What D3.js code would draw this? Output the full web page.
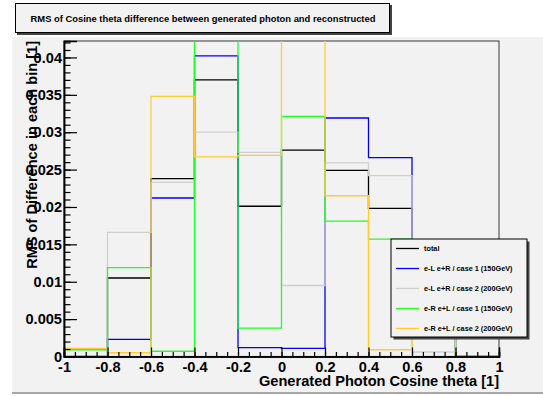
<!DOCTYPE html>
<html>
<head>
<meta charset="utf-8">
<script src="https://cdn.jsdelivr.net/npm/d3@7"></script>
<style>
body { margin:0; background:#fff; }
text { font-family:"Liberation Sans", Arial, sans-serif; font-weight:bold; }
</style>
</head>
<body>
<svg id="chart" width="543" height="396"></svg>
<script>
// bin edges of the histograms (Generated Photon Cosine theta)
var binEdges = [-1, -0.8, -0.6, -0.4, -0.2, 0, 0.2, 0.4, 0.6, 0.8, 1]

// RMS per bin, one array per series
var total   = [0.00094, 0.0105, 0.0238, 0.0370, 0.0201, 0.0276, 0.0249, 0.0198, 0.0090, 0]
var eLeR150 = [0, 0.0023, 0.0212, 0.0402, 0.0012, 0.0011, 0.0319, 0.0266, 0.0080, 0]
var eLeR200 = [0, 0.0166, 0.0233, 0.0300, 0.0273, 0.0095, 0.0259, 0.0242, 0.0006, 0]
var eReL150 = [0.0009, 0.0119, 0.0007, 0.0455, 0.0038, 0.0321, 0.0181, 0.0157, 0.0110, 0]
var eReL200 = [0.0011, 0.0005, 0.0348, 0.0267, 0.0269, 0.0440, 0.0215, 0.0009, 0.0060, 0]

var seriesNames = ["total", "e-L e+R / case 1 (150GeV)", "e-L e+R / case 2 (200GeV)",
                   "e-R e+L / case 1 (150GeV)", "e-R e+L / case 2 (200GeV)"]
var seriesColors = ["#000000", "#0000ff", "#cfcfcf", "#22ff22", "#ffcc33"]
var seriesValues = [total, eLeR150, eLeR200, eReL150, eReL200]

// tick labels
var xTickValues = [-1, -0.8, -0.6, -0.4, -0.2, 0, 0.2, 0.4, 0.6, 0.8, 1]
var xTickLabels = ["-1", "-0.8", "-0.6", "-0.4", "-0.2", "0", "0.2", "0.4", "0.6", "0.8", "1"]
var yTickValues = [0, 0.005, 0.01, 0.015, 0.02, 0.025, 0.03, 0.035, 0.04]
var yTickLabels = ["0", "0.005", "0.01", "0.015", "0.02", "0.025", "0.03", "0.035", "0.04"]

var svg = d3.select("#chart")

//---pad background
svg.append("rect").attr("x", 12).attr("y", 37).attr("width", 531).attr("height", 356).attr("fill", "#f2f2f2")
svg.append("rect").attr("x", 12).attr("y", 392).attr("width", 531).attr("height", 2).attr("fill", "#a8a8a8")

//---title box
svg.append("rect").attr("x", 17).attr("y", 5).attr("width", 375).attr("height", 30).attr("fill", "#444")
svg.append("rect").attr("x", 15.5).attr("y", 3.5).attr("width", 374).attr("height", 29)
  .attr("fill", "#f2f2f2").attr("stroke", "#000").attr("stroke-width", 1)
svg.append("text").attr("x", 203).attr("y", 22).attr("text-anchor", "middle")
  .attr("font-size", 9.4).text("RMS of Cosine theta difference between generated photon and reconstructed")

var fLeft = 64, fRight = 499, fTop = 41, fBottom = 356.5

var x = d3.scaleLinear().domain([-1, 1]).range([fLeft, fRight])
var y = d3.scaleLinear().domain([0, 0.0422]).range([fBottom, fTop])

//---frame
svg.append("rect").attr("x", fLeft).attr("y", fTop).attr("width", fRight - fLeft).attr("height", fBottom - fTop)
  .attr("fill", "#f2f2f2").attr("stroke", "#555").attr("stroke-width", 1.2)

svg.append("clipPath").attr("id", "frameClip")
  .append("rect").attr("x", fLeft).attr("y", fTop).attr("width", fRight - fLeft).attr("height", fBottom - fTop)

//---histograms as step lines
var line = d3.line()
  .x(function(d) { return x(d[0]) })
  .y(function(d) { return y(d[1]) })
  .curve(d3.curveStepAfter)

var histG = svg.append("g").attr("clip-path", "url(#frameClip)")
seriesValues.forEach(function(vals, i) {
  var pts = vals.map(function(v, j) { return [binEdges[j], v] })
  pts.push([binEdges[binEdges.length - 1], vals[vals.length - 1]])
  histG.append("path")
    .attr("d", line(pts))
    .attr("fill", "none")
    .attr("stroke", seriesColors[i])
    .attr("stroke-width", 1.3)
})

//---axes
var xMinor = d3.range(-1, 1.0001, 0.05)
var yMinor = d3.range(0, 0.0421, 0.001)

svg.append("g").attr("transform", "translate(0," + fBottom + ")")
  .call(d3.axisBottom(x).tickValues(xMinor).tickSize(-4.5).tickFormat(""))
svg.append("g").attr("transform", "translate(0," + fBottom + ")")
  .call(d3.axisBottom(x).tickValues(xTickValues).tickSize(-9).tickPadding(5)
    .tickFormat(function(d, i) { return xTickLabels[i] }))
svg.append("g").attr("transform", "translate(" + fLeft + ",0)")
  .call(d3.axisLeft(y).tickValues(yMinor).tickSize(-6.5).tickFormat(""))
svg.append("g").attr("transform", "translate(" + fLeft + ",0)")
  .call(d3.axisLeft(y).tickValues(yTickValues).tickSize(-13).tickPadding(2)
    .tickFormat(function(d, i) { return yTickLabels[i] }))

svg.selectAll(".domain").attr("stroke", "#000").attr("stroke-width", 1.5)
svg.selectAll(".tick line").attr("stroke", "#000").attr("stroke-width", 1.2)
svg.selectAll(".tick text").attr("font-size", 14.6).attr("font-family", "Liberation Sans, Arial, sans-serif")
  .attr("font-weight", "bold").attr("fill", "#000")

//---axis titles
svg.append("text").attr("x", fRight).attr("y", 386).attr("text-anchor", "end")
  .attr("font-size", 14.6).text("Generated Photon Cosine theta [1]")
svg.append("text").attr("transform", "translate(37," + fTop + ") rotate(-90)").attr("text-anchor", "end")
  .attr("font-size", 14.6).text("RMS of Difference in each bin [1]")

//---legend
var lg = svg.append("g")
lg.append("rect").attr("x", 393.5).attr("y", 241.5).attr("width", 136).attr("height", 98).attr("fill", "#444")
lg.append("rect").attr("x", 391).attr("y", 239).attr("width", 136).attr("height", 98)
  .attr("fill", "#f2f2f2").attr("stroke", "#000").attr("stroke-width", 1)
seriesNames.forEach(function(name, i) {
  var ly = 248.5 + i * 20
  lg.append("line").attr("x1", 396).attr("x2", 419).attr("y1", ly).attr("y2", ly)
    .attr("stroke", seriesColors[i]).attr("stroke-width", 1.3)
  lg.append("text").attr("x", 424).attr("y", ly + 2.6).attr("font-size", 7.3).text(name)
})
</script>
</body>
</html>
